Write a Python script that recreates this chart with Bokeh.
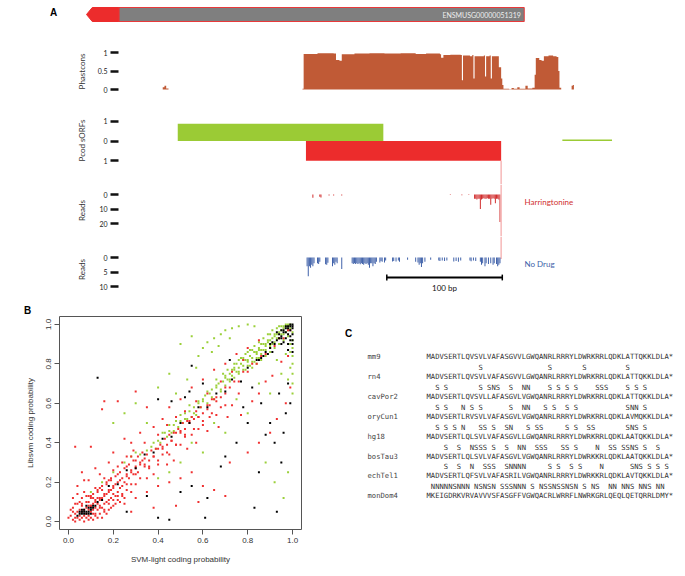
from bokeh.plotting import figure
from bokeh.layouts import column, row
from bokeh.models import Range1d, FixedTicker, Span, NumeralTickFormatter
from bokeh.embed import file_html
from bokeh.resources import INLINE
from bokeh.core.properties import value

# ---------------- data : panel A ----------------
gene_name = "ENSMUSG00000051319"
gene_start, gene_end, gene_head_end = 0, 379, 28

phast_pos = [47, 64, 66, 67.5, 69, 71, 185, 187, 188, 200, 214, 216, 219, 221, 232, 245, 258, 272, 285, 294,
             306, 307, 309, 315, 324, 325, 326, 332, 334, 335, 336, 344, 345, 346, 349, 350, 351, 354, 357,
             359, 360, 361, 366, 368, 370, 373, 375, 380, 382, 386, 388, 389, 392, 394, 396, 400, 404, 407, 408.5,
             409.5, 411, 418, 420, 421, 422]
phast_val = [0, 0, 0.06, 0.1, 0.03, 0, 0, 0.02, 0.96, 0.98, 0.97, 0.8, 0.78, 0.95, 0.97, 0.98, 0.97, 0.98, 0.96, 0.97,
             0.95, 0.86, 0.93, 0.94, 0.93, 0.25, 0.92, 0.9, 0.93, 0.3, 0.9, 0.92, 0.35, 0.9, 0.92, 0.3, 0.9, 0.9, 0.6,
             0.3, 0.12, 0.02, 0.01, 0.04, 0.02, 0.06, 0.02, 0.1, 0.03, 0.05, 0.4, 0.85, 0.8, 0.78, 0.9, 0.92, 0.9, 0.88,
             0.5, 0.05, 0, 0, 0.1, 0.12, 0]

sorf_left = [79, 190, 412]
sorf_right = [257, 359, 455]
sorf_score = [0.87, -1.0, 0.07]
sorf_color = ["#9bcb35", "#ec2c2c", "#9bcb35"]

harr_pos = [196, 202, 203, 210, 214, 221, 315, 325, 331, 336, 337, 338, 339, 340, 341, 342, 343, 344, 345, 346,
            347, 348, 349, 350, 351, 352, 353, 354, 355, 356, 357, 358]
harr_reads = [2.3, 1.5, 2, 0.7, 0.7, 0.7, 0.4, 0.5, 0.4, 3, 3, 3.5, 3, 3, 10, 3.5, 3, 2.5, 3, 3,
              2.5, 3, 3, 7, 3, 2.5, 3, 6, 3, 3, 3.5, 19]

nodrug_pos = [191, 192, 193, 194, 195, 196, 197, 200, 201, 202, 207, 208, 209, 213, 214, 215, 216, 217, 221,
              230, 231, 232, 233, 234, 235, 236, 237, 238, 239, 240, 241, 242, 243, 244, 245, 246, 247, 248, 249,
              250, 251, 254, 255, 256, 258, 259, 265, 266, 268, 270, 271, 278, 285, 287, 288, 289, 290, 291, 293,
              298, 305, 306, 308, 310, 312, 318, 320, 322, 324, 332, 333, 335, 337, 341, 342, 343, 345, 346, 348,
              350, 352, 353, 355, 356, 357, 358]
nodrug_reads = [3, 6.5, 3, 3.5, 2.5, 3, 2, 2, 2.2, 1.5, 2.3, 2.5, 1.8, 3, 2, 2.5, 1.5, 2, 4,
                2, 2.2, 2, 2.2, 2, 2.2, 2, 2.3, 2, 2.2, 2.5, 2, 2.2, 2, 2.5, 3.5, 2, 2, 3, 2,
                2.2, 1.5, 1.7, 1.2, 1.5, 1.7, 1, 1.4, 1.2, 1.4, 1, 1.5, 0.8, 1.5, 1.7, 2.5, 2, 3.3, 2, 1.5,
                0.8, 1, 1.2, 1, 1.2, 1, 1.4, 1.2, 1.5, 1, 1, 1.3, 1, 1.2, 1.5, 2.5, 2, 3, 2, 2.2,
                2, 2.5, 2, 2.2, 3, 2.5, 2]
scale_bar_start, scale_bar_len = 260, 100

# ---------------- data : panel B ----------------
red_pts = [(0.02,0.01),(0.03,0.02),(0.04,0.02),(0.05,0.03),(0.06,0.02),(0.07,0.03),(0.08,0.04),(0.09,0.03),(0.10,0.05),
 (0.11,0.04),(0.03,0.04),(0.04,0.05),(0.05,0.06),(0.06,0.05),(0.07,0.06),(0.08,0.07),(0.09,0.08),(0.10,0.08),(0.11,0.09),
 (0.12,0.10),(0.13,0.09),(0.14,0.11),(0.15,0.12),(0.16,0.13),(0.17,0.14),(0.18,0.15),(0.19,0.16),(0.20,0.17),(0.02,0.05),
 (0.01,0.03),(0.00,0.02),(0.01,0.06),(0.02,0.07),(0.03,0.09),(0.05,0.10),(0.06,0.12),(0.04,0.14),(0.07,0.15),(0.09,0.13),
 (0.10,0.12),(0.12,0.07),(0.13,0.06),(0.14,0.08),(0.15,0.07),(0.16,0.09),(0.17,0.10),(0.18,0.11),(0.19,0.12),(0.21,0.13),
 (0.22,0.15),(0.23,0.17),(0.24,0.18),(0.25,0.20),(0.08,0.02),(0.10,0.02),(0.12,0.03),(0.14,0.04),(0.16,0.05),(0.18,0.06),
 (0.06,0.08),(0.08,0.10),(0.11,0.14),(0.13,0.16),(0.15,0.18),(0.17,0.20),(0.19,0.22),(0.21,0.19),(0.23,0.21),(0.26,0.23),
 (0.27,0.22),(0.28,0.26),(0.29,0.24),(0.30,0.27),(0.31,0.25),(0.32,0.29),(0.02,0.12),(0.04,0.18),(0.07,0.21),(0.05,0.01),
 (0.09,0.06),(0.11,0.06),(0.13,0.12),(0.20,0.14),(0.22,0.11),(0.24,0.14),(0.26,0.16),(0.03,0.00),(0.07,0.00),(0.11,0.01),
 (0.15,0.02),(0.20,0.08),(0.25,0.12),(0.28,0.15),(0.30,0.19),(0.35,0.22),
 (0.33,0.31),(0.34,0.29),(0.35,0.34),(0.36,0.31),(0.37,0.36),(0.38,0.33),(0.39,0.37),(0.40,0.37),(0.41,0.39),(0.42,0.38),
 (0.43,0.42),(0.44,0.39),(0.45,0.44),(0.46,0.41),(0.47,0.45),(0.48,0.45),(0.49,0.47),(0.50,0.46),(0.51,0.50),(0.52,0.47),
 (0.53,0.51),(0.54,0.51),(0.55,0.53),(0.56,0.52),(0.57,0.56),(0.58,0.53),(0.59,0.58),(0.60,0.55),(0.62,0.59),(0.63,0.59),
 (0.64,0.62),(0.65,0.62),(0.66,0.63),(0.68,0.63),(0.70,0.68),(0.72,0.68),(0.74,0.71),(0.76,0.71),(0.78,0.76),(0.80,0.76),
 (0.82,0.80),(0.84,0.80),(0.86,0.84),(0.88,0.85),(0.90,0.88),(0.92,0.89),(0.94,0.93),(0.96,0.93),(0.98,0.97),(0.99,0.97),
 (0.36,0.28),(0.40,0.29),(0.42,0.34),(0.45,0.34),(0.48,0.39),(0.50,0.39),(0.52,0.44),(0.55,0.44),(0.58,0.47),(0.60,0.49),
 (0.63,0.53),(0.66,0.54),(0.70,0.59),(0.73,0.59),(0.76,0.65),(0.38,0.24),(0.44,0.29),(0.47,0.31),(0.53,0.37),(0.57,0.40),
 (0.62,0.46),(0.67,0.48),(0.71,0.53),(0.77,0.54),(0.82,0.61),(0.85,0.65),(0.88,0.71),(0.91,0.74),(0.95,0.81),(0.98,0.84),
 (0.30,0.12),(0.35,0.15),(0.40,0.18),(0.45,0.20),(0.50,0.22),(0.55,0.25),(0.60,0.18),(0.65,0.16),(0.70,0.13),(0.72,0.30),
 (0.80,0.35),(0.85,0.40),(0.90,0.45),(0.93,0.52),(0.97,0.60),(0.99,0.68),(0.58,0.10),(0.48,0.08),(0.38,0.07),(0.28,0.05),
 (0.25,0.09),(0.03,0.38),(0.10,0.38),(0.15,0.57),(0.16,0.61),(0.22,0.61),(0.30,0.66),(0.35,0.58),(0.12,0.27),(0.18,0.30),
 (0.20,0.35),(0.25,0.42),(0.28,0.40),(0.32,0.45),(0.38,0.48),(0.42,0.52),(0.45,0.58),(0.50,0.62),(0.55,0.68),(0.60,0.72),
 (0.65,0.77),(0.70,0.80),(0.75,0.85),(0.80,0.88),(0.85,0.92),(0.06,0.25),(0.09,0.21),(0.14,0.24),(0.22,0.28),(0.26,0.33),
 (0.29,0.36),(0.34,0.40),(0.40,0.44),(0.44,0.49),(0.48,0.53),(0.52,0.56),(0.57,0.61),(0.62,0.65),(0.68,0.71),(0.73,0.76),
 (0.78,0.82),
 (0.09,0.10),(0.10,0.08),(0.11,0.12),(0.12,0.11),(0.13,0.15),(0.14,0.12),(0.15,0.16),(0.16,0.14),(0.17,0.19),(0.18,0.16),
 (0.19,0.21),(0.20,0.18),(0.21,0.23),(0.22,0.20),(0.23,0.25),(0.24,0.22),(0.25,0.27),(0.26,0.24),(0.27,0.29),(0.28,0.25),
 (0.29,0.31),(0.30,0.28),(0.31,0.33),(0.32,0.30),(0.33,0.35),(0.34,0.32),
 (0.12,0.04),(0.14,0.07),(0.16,0.06),(0.18,0.09),(0.20,0.11),(0.22,0.13),(0.24,0.13),(0.26,0.19),(0.28,0.19),(0.30,0.24),
 (0.32,0.22),(0.34,0.28),(0.36,0.27),(0.38,0.33),(0.40,0.31),(0.42,0.37),(0.44,0.35),(0.46,0.41),(0.48,0.39),(0.50,0.45),
 (0.52,0.43),(0.54,0.50),(0.56,0.47),(0.58,0.53),(0.60,0.51),(0.62,0.57),(0.64,0.55),(0.66,0.61),(0.68,0.58),(0.70,0.65),
 (0.04,0.09),(0.06,0.09),(0.08,0.13),(0.10,0.13),(0.12,0.17),(0.14,0.17),(0.16,0.22),(0.18,0.21),(0.20,0.26),(0.22,0.24),
 (0.24,0.30),(0.26,0.28),(0.28,0.33),(0.30,0.31),(0.09,0.01),(0.13,0.02),(0.17,0.04),(0.19,0.07),(0.21,0.09),(0.23,0.10)]
green_pts = [(0.35,0.36),(0.38,0.40),(0.40,0.41),(0.42,0.45),(0.45,0.46),(0.47,0.49),(0.50,0.51),(0.52,0.55),(0.54,0.56),
 (0.56,0.58),(0.58,0.61),(0.60,0.62),(0.61,0.64),(0.63,0.65),(0.64,0.67),(0.66,0.68),(0.67,0.70),(0.69,0.71),(0.70,0.73),
 (0.71,0.72),(0.72,0.75),(0.73,0.74),(0.74,0.77),(0.75,0.76),(0.76,0.78),(0.77,0.80),(0.78,0.79),(0.79,0.82),(0.80,0.81),
 (0.81,0.84),(0.82,0.83),(0.83,0.86),(0.84,0.85),(0.85,0.88),(0.86,0.87),(0.87,0.90),(0.88,0.89),(0.89,0.91),(0.90,0.92),
 (0.91,0.93),(0.92,0.94),(0.93,0.95),(0.94,0.96),(0.95,0.97),(0.96,0.98),(0.97,0.99),(0.98,0.99),(0.99,1.00),(0.70,0.69),
 (0.72,0.71),(0.74,0.73),(0.76,0.75),(0.78,0.77),(0.80,0.79),(0.82,0.81),(0.84,0.83),(0.86,0.85),(0.88,0.87),(0.90,0.89),
 (0.92,0.91),(0.94,0.93),(0.96,0.95),(0.98,0.97),(0.68,0.66),(0.65,0.62),(0.62,0.60),(0.59,0.58),(0.57,0.54),(0.55,0.53),
 (0.53,0.52),(0.51,0.50),(0.49,0.48),(0.46,0.45),(0.44,0.43),(0.41,0.40),(0.39,0.37),(0.37,0.38),(0.75,0.80),(0.77,0.83),
 (0.79,0.85),(0.81,0.87),(0.83,0.89),(0.85,0.91),(0.87,0.93),(0.89,0.95),(0.91,0.97),(0.93,0.98),(0.95,0.99),(0.97,1.00),
 (0.82,0.78),(0.84,0.80),(0.86,0.82),(0.88,0.84),(0.90,0.86),(0.92,0.88),(0.94,0.90),(0.96,0.92),(0.98,0.94),(1.00,0.96),
 (1.00,0.92),(1.00,0.88),(1.00,0.84),(1.00,0.80),(1.00,0.75),(1.00,0.70),(1.00,0.65),(0.99,0.90),(0.99,0.86),(0.99,0.78),
 (0.98,0.72),(0.50,0.90),(0.55,0.94),(0.60,0.88),(0.62,0.91),(0.65,0.93),(0.68,0.95),(0.70,0.97),(0.73,0.98),(0.76,0.99),
 (0.80,1.00),(0.83,0.99),(0.58,0.84),(0.64,0.86),(0.67,0.89),(0.72,0.93),(0.45,0.75),(0.40,0.68),(0.30,0.60),(0.25,0.55),
 (0.20,0.50),(0.35,0.50),(0.48,0.65),(0.53,0.72),(0.57,0.78),(0.55,0.40),(0.65,0.50),(0.75,0.62),(0.85,0.70),(0.95,0.75),
 (0.90,0.65),(0.80,0.55),(0.70,0.45),(0.60,0.35),(0.50,0.30),(0.97,0.85),(0.93,0.82),(0.45,0.25),(0.40,0.22),(0.98,0.25),
 (0.96,0.12),(0.92,0.20),(0.88,0.30),(0.20,0.25),(0.25,0.30),(0.28,0.33),(0.30,0.35),(0.32,0.34),(0.15,0.20),(0.10,0.15),
 (0.60,0.61),(0.62,0.66),(0.64,0.63),(0.66,0.69),(0.68,0.67),(0.70,0.74),(0.72,0.72),(0.74,0.78),(0.76,0.76),(0.78,0.82),
 (0.80,0.82),(0.82,0.87),(0.84,0.86),(0.86,0.90),(0.88,0.90),(0.90,0.95),(0.92,0.95),(0.94,0.99),(0.96,0.99),(0.98,1.00),
 (0.71,0.77),(0.73,0.77),(0.76,0.82),(0.78,0.83),(0.80,0.86),(0.83,0.86),(0.85,0.87),(0.87,0.87),(0.89,0.92),(0.91,0.90),
 (0.93,0.93),(0.95,0.95),(0.97,0.96),(0.99,0.98),(0.50,0.54),(0.52,0.52),(0.54,0.59),(0.56,0.55),(0.58,0.60),(0.43,0.45),
 (0.45,0.49),(0.47,0.46),(0.48,0.51),(0.66,0.72),(0.69,0.75),(0.74,0.80),(0.79,0.77),(0.81,0.79),(0.83,0.81),(0.85,0.83)]
black_pts = [(0.93,0.92),(0.94,0.95),(0.95,0.94),(0.96,0.97),(0.97,0.96),(0.98,0.98),(0.99,0.99),(1.00,1.00),(0.99,0.97),
 (0.98,0.95),(0.97,0.93),(0.96,0.91),(0.95,0.90),(1.00,0.98),(1.00,0.95),(0.99,0.94),(0.97,0.99),(0.95,0.97),(0.92,0.90),
 (0.90,0.88),(0.91,0.86),(0.89,0.85),(0.88,0.86),(0.87,0.84),(0.86,0.83),(0.85,0.82),(0.84,0.82),(1.00,0.92),(1.00,0.90),
 (1.00,0.86),(0.99,0.92),(0.98,0.90),(0.98,0.87),(0.80,0.78),(0.77,0.71),(0.73,0.72),(0.70,0.66),(0.66,0.65),(0.62,0.58),
 (0.58,0.58),(0.54,0.50),(0.50,0.50),(0.46,0.43),(0.42,0.42),(0.38,0.35),(0.34,0.34),(0.30,0.27),(0.26,0.26),(0.22,0.19),
 (0.18,0.18),(0.06,0.04),(0.07,0.04),(0.08,0.05),(0.09,0.05),(0.10,0.06),(0.05,0.04),(0.06,0.05),(0.08,0.04),(0.09,0.07),
 (0.11,0.07),(0.12,0.08),(0.07,0.05),(0.10,0.04),(0.13,0.10),(0.15,0.11),(0.13,0.73),(0.55,0.79),(0.40,0.62),(0.46,0.61),
 (0.52,0.63),(0.54,0.66),(0.60,0.70),(0.72,0.82),(0.78,0.58),(0.86,0.60),(0.90,0.50),(0.97,0.55),(0.95,0.30),(0.93,0.05),
 (0.83,0.07),(0.75,0.40),(0.70,0.33),(0.61,0.02),(0.45,0.01),(0.40,0.02),(0.88,0.44),(0.92,0.40),(0.96,0.45),(0.99,0.60),
 (0.98,0.70),(0.94,0.65),(0.82,0.68),(0.80,0.50),(0.68,0.28),(0.62,0.12),(0.50,0.15),(0.35,0.13),(0.26,0.05),(0.55,0.18),
 (0.85,0.25),(0.97,0.98),(0.98,0.99),(0.99,1.00),(1.00,0.99),(0.96,0.96),(0.94,0.93),(0.93,0.96),(0.91,0.91),(0.90,0.90),
 (0.95,0.93),(0.04,0.03),(0.05,0.05),(0.07,0.06),(0.08,0.08),(0.09,0.04),(0.11,0.08),(0.06,0.06),(0.10,0.07)]
b_ticks = [0.0, 0.2, 0.4, 0.6, 0.8, 1.0]

# ---------------- data : panel C ----------------
species = ["mm9", "rn4", "cavPor2", "oryCun1", "hg18", "bosTau3", "echTel1", "monDom4"]
sequences = [
    "MADVSERTLQVSVLVAFASGVVLGWQANRLRRRYLDWRKRRLQDKLATTQKKLDLA*",
    "MADVSERTLQVSVLVAFASGVVLGWQANRLRRRYLDWRKRRLQDKLATTQKKLDLA*",
    "MADVSERTLQVSVLLAFASGVLVGWQANRLRRRYLDWRKRRLQDKLATTQKKLDLA*",
    "MADVSERTLRVSVLVAFASGVLVGWQANRLRRRYLDWRKRRLQDKLAVMQKKLDLA*",
    "MADVSERTLQLSVLVAFASGVLLGWQANRLRRRYLDWRKRRLQDKLAATQKKLDLA*",
    "MADVSERTLQLSVLVAFASGVLVGWQANRLRRRYLDWRKKRLQDKLAATQKKLDLA*",
    "MADVSERTLQFSVLVAFASRILVGWQANRLRRRYLDWRKKRLQDKLAVTQKKLDLA*",
    "MKEIGDRKVRVAVVVSFASGFFVGWQACRLWRRFLNWRKGRLQEQLQETQRRLDMY*",
]
subst_rows = [
    {12: "S", 28: "S", 36: "S", 46: "S"},
    {2: "S", 4: "S", 12: "S", 14: "S", 15: "N", 16: "S", 19: "S", 22: "N", 23: "N", 28: "S", 30: "S", 32: "S",
     34: "S", 39: "S", 40: "S", 41: "S", 46: "S", 48: "S", 50: "S"},
    {2: "S", 4: "S", 8: "N", 10: "S", 12: "S", 19: "S", 22: "N", 23: "N", 27: "S", 29: "S", 32: "S", 34: "S",
     46: "S", 47: "N", 48: "N", 50: "S"},
    {2: "S", 4: "S", 6: "S", 8: "N", 12: "S", 13: "S", 15: "S", 18: "S", 19: "N", 23: "S", 25: "S", 26: "S",
     32: "S", 34: "S", 37: "S", 38: "S", 46: "S", 47: "N", 48: "S", 50: "S"},
    {4: "S", 7: "S", 10: "N", 11: "S", 12: "S", 13: "S", 15: "S", 18: "S", 21: "N", 22: "N", 25: "S", 26: "S",
     27: "S", 31: "S", 32: "S", 34: "S", 39: "N", 42: "S", 43: "S", 45: "S", 46: "S", 47: "N", 48: "S", 50: "S", 53: "S"},
    {4: "S", 7: "S", 10: "N", 13: "S", 14: "S", 15: "S", 18: "S", 19: "N", 20: "N", 21: "N", 22: "N", 28: "S",
     30: "S", 33: "S", 35: "S", 40: "N", 47: "S", 48: "N", 49: "S", 51: "S", 53: "S", 55: "S"},
    {1: "N", 2: "N", 3: "N", 4: "N", 5: "N", 6: "S", 7: "N", 8: "N", 9: "N", 11: "N", 12: "S", 13: "N", 14: "S",
     15: "N", 17: "S", 18: "S", 19: "S", 20: "N", 21: "N", 22: "N", 24: "S", 26: "N", 27: "S", 28: "S", 29: "N",
     30: "S", 31: "S", 32: "N", 33: "S", 34: "N", 36: "S", 38: "N", 39: "S", 42: "N", 43: "N", 45: "N", 46: "N",
     47: "S", 49: "N", 50: "N", 51: "S", 53: "N", 54: "N"},
]

# ---------------- layout helpers (page pixels, page origin at top-left) ----------------
PX_PER_BP = 1.155
GENE_PAGE_X = 86
A_RIGHT = 648
SANS = "Lato"
MONO = "DejaVu Sans Mono"
TRACK_LEFT = 118


def bp_at(page_x):
    return (page_x - GENE_PAGE_X) / PX_PER_BP


def yr(top, bottom, p0, v0, k):
    """y range for a frame spanning page rows top..bottom where value v0 sits at page row p0,
    k pixels per unit (negative k = values grow downwards)."""
    return Range1d(start=v0 + (p0 - bottom) / k, end=v0 + (p0 - top) / k)


def yv(page_y, p0, v0, k):
    return v0 + (p0 - page_y) / k


def plain_fig(width, height, x_range, y_range):
    p = figure(width=width, height=height, x_range=x_range, y_range=y_range,
               output_backend="svg", toolbar_location=None,
               min_border_left=0, min_border_right=0, min_border_top=0, min_border_bottom=0,
               x_axis_location=None, y_axis_location=None)
    p.outline_line_color = None
    p.grid.visible = False
    p.frame_align = False
    return p


def track_fig(top, bottom, y_range, ticks, label, standoff, overrides=None):
    p = figure(width=A_RIGHT, height=bottom - top,
               x_range=Range1d(bp_at(TRACK_LEFT), bp_at(A_RIGHT)), y_range=y_range,
               output_backend="svg", toolbar_location=None,
               min_border_left=TRACK_LEFT, min_border_right=0, min_border_top=0, min_border_bottom=0,
               x_axis_location=None, y_axis_location="left")
    p.outline_line_color = None
    p.grid.visible = False
    ax = p.yaxis[0]
    ax.ticker = FixedTicker(ticks=ticks)
    if overrides:
        ax.major_label_overrides = overrides
    ax.axis_line_color = None
    ax.major_tick_out = 8
    ax.major_tick_in = 0
    ax.major_tick_line_width = 2.5
    ax.major_tick_line_color = "#111111"
    ax.minor_tick_line_color = None
    ax.major_label_standoff = 3
    ax.major_label_text_font = SANS
    ax.major_label_text_font_size = "7px"
    ax.major_label_text_color = "#222222"
    ax.axis_label = label
    ax.axis_label_text_font = SANS
    ax.axis_label_text_font_size = "8px"
    ax.axis_label_text_font_style = "normal"
    ax.axis_label_text_color = "#333333"
    ax.axis_label_standoff = standoff
    return p

# ---- gene track (page rows 0..46, bar 7..21) ----
gene = plain_fig(A_RIGHT, 46, Range1d(bp_at(0), bp_at(A_RIGHT)), yr(0, 46, 21, 0, 14))
gene.quad(left=[gene_head_end], right=[gene_end], bottom=[0], top=[1],
          fill_color="#7f7f7f", line_color="#e8393a", line_width=1)
gene.patch(x=[gene_start, gene_start + 5, gene_head_end, gene_head_end, gene_start + 5],
           y=[0.5, 1, 1, 0, 0], fill_color="#ec2c2c", line_color="#ec2c2c", line_width=1)
gene.text(x=[gene_end - 3], y=[0.5], text=[gene_name], text_font=value(SANS), text_font_size="7px",
          text_color="#eeeeee", text_align="right", text_baseline="middle")
gene.text(x=[bp_at(53)], y=[yv(12, 21, 0, 14)], text=["A"], text_font=value("Liberation Sans"),
          text_font_size="10px", text_font_style="bold", text_color="#000000",
          text_align="center", text_baseline="middle")

# ---- phastcons (frame 46..96; 1 at 52, 0 at 89) ----
phast = track_fig(46, 96, yr(46, 96, 89, 0, 37), [0, 0.5, 1], "Phastcons", 8)
phast.varea_step(x=phast_pos, y1=[0] * len(phast_pos), y2=phast_val, step_mode="after", fill_color="#c05a36")

# ---- sORFs (frame 96..184; 0 at 140.5) ----
sorf_yr = yr(96, 184, 140.5, 0, 19.75)
sorf = track_fig(96, 184, sorf_yr, [-1, 0, 1], "Pcod sORFs", 13, overrides={-1: "1"})
sorf.quad(left=sorf_left, right=sorf_right, bottom=[0] * 3, top=sorf_score, fill_color=sorf_color,
          line_color=None)
sorf.segment(x0=[sorf_right[1]], x1=[sorf_right[1]], y0=[-1], y1=[sorf_yr.start],
             line_color="#f6b8b8", line_width=1.5)

# ---- Harringtonine reads (frame 184..236; 0 at 194) ----
harr = track_fig(184, 236, yr(184, 236, 194, 0, -1.45), [0, 10, 20], "Reads", 9)
harr.add_layout(Span(location=sorf_right[1], dimension="height", line_color="#f6b8b8", line_width=1.5))
harr.vbar(x=harr_pos, width=0.85, bottom=0, top=harr_reads, fill_color="#d02a2a", line_color=None)
harr.text(x=[bp_at(524)], y=[yv(201, 194, 0, -1.45)], text=["Harringtonine"], text_font=value(SANS),
          text_font_size="8px", text_color="#d03030", text_baseline="middle")

# ---- No drug reads (frame 236..302; 0 at 257) ----
nod_yr = yr(236, 302, 257, 0, -2.9)
nod = track_fig(236, 302, nod_yr, [0, 5, 10], "Reads", 9)
nod.segment(x0=[sorf_right[1]], x1=[sorf_right[1]], y0=[nod_yr.end], y1=[0.5],
            line_color="#f6b8b8", line_width=1.5)
nod.vbar(x=nodrug_pos, width=0.85, bottom=0, top=nodrug_reads, fill_color="#3d5fa8", line_color=None)
nod.text(x=[bp_at(524)], y=[yv(263, 257, 0, -2.9)], text=["No Drug"], text_font=value(SANS),
         text_font_size="8px", text_color="#3d5fa8", text_baseline="middle")
sb_y = yv(277, 257, 0, -2.9)
sb_end = scale_bar_start + scale_bar_len
nod.segment(x0=[scale_bar_start], x1=[sb_end], y0=[sb_y], y1=[sb_y], line_color="#000000", line_width=2)
nod.segment(x0=[scale_bar_start, sb_end], x1=[scale_bar_start, sb_end], y0=[sb_y - 1.0, sb_y - 1.0],
            y1=[sb_y + 1.0, sb_y + 1.0], line_color="#000000", line_width=1.5)
nod.text(x=[(scale_bar_start + sb_end) / 2], y=[yv(287, 257, 0, -2.9)], text=["%d bp" % scale_bar_len],
         text_font=value(SANS), text_font_size="8px", text_color="#111111",
         text_align="center", text_baseline="middle")

# ---- panel B label strip (page rows 302..316) ----
labB = plain_fig(330, 14, Range1d(0, 330), Range1d(14, 0))
labB.text(x=[27], y=[7.5], text=["B"], text_font=value("Liberation Sans"), text_font_size="10px",
          text_font_style="bold", text_align="center", text_baseline="middle")

# ---- panel B (page rows 316..574, frame 316..529, cols 59..301) ----
figB = figure(width=330, height=258, x_range=Range1d(-0.04, 1.04), y_range=Range1d(-0.04, 1.04),
              output_backend="svg", toolbar_location=None,
              min_border_left=59, min_border_right=29, min_border_top=0, min_border_bottom=45)
figB.frame_align = False
figB.grid.visible = False
figB.outline_line_color = "#555555"
figB.outline_line_width = 1
for ax in (figB.xaxis[0], figB.yaxis[0]):
    ax.ticker = FixedTicker(ticks=b_ticks)
    ax.formatter = NumeralTickFormatter(format="0.0")
    ax.bounds = (0, 1)
    ax.axis_line_color = "#555555"
    ax.major_tick_out = 5
    ax.major_tick_in = 0
    ax.major_tick_line_color = "#555555"
    ax.minor_tick_line_color = None
    ax.major_label_text_font = "Liberation Sans"
    ax.major_label_text_font_size = "8px"
    ax.major_label_text_color = "#333333"
    ax.major_label_standoff = 3
    ax.axis_label_text_font = "Liberation Sans"
    ax.axis_label_text_font_size = "8px"
    ax.axis_label_text_font_style = "normal"
    ax.axis_label_text_color = "#333333"
    ax.axis_label_standoff = 9
figB.xaxis[0].axis_label = "SVM-light coding probability"
figB.yaxis[0].axis_label = "Libsvm coding probability"
figB.yaxis[0].major_label_orientation = "vertical"
for pts, col in ((green_pts, "#9bd03a"), (red_pts, "#f03030"), (black_pts, "#000000")):
    figB.scatter(x=[p[0] for p in pts], y=[p[1] for p in pts], marker="square", size=2.0,
                 fill_color=col, line_color=None)

# ---- panel C (page cols 330..685, rows 304..574) ----
CH = 4.333   # px per character column
ROW = 19.9   # px per species row
figC = plain_fig(355, 270, Range1d((330 - 426) / CH, (685 - 426) / CH), yr(304, 574, 358, 0, -ROW))
NB = "\u00a0"
n_rows = list(range(len(species)))
figC.text(x=[(367 - 426) / CH] * len(species), y=n_rows, text=species, text_font=value(MONO),
          text_font_size="7.2px", text_color="#444444", text_baseline="middle")
figC.text(x=[0] * len(sequences), y=n_rows, text=sequences, text_font=value(MONO),
          text_font_size="7.2px", text_color="#333333", text_baseline="middle")
subst_text = ["".join(d.get(i, NB) for i in range(len(sequences[0]))) for d in subst_rows]
figC.text(x=[0] * len(subst_text), y=[r + 0.55 for r in range(len(subst_text))], text=subst_text,
          text_font=value(MONO), text_font_size="7.2px", text_color="#333333", text_baseline="middle")
figC.text(x=[(348 - 426) / CH], y=[yv(335, 358, 0, -ROW)], text=["C"], text_font=value("Liberation Sans"),
          text_font_size="10px", text_font_style="bold", text_align="center", text_baseline="middle")

layout = column(gene, phast, sorf, harr, nod, row(column(labB, figB, spacing=0), figC, spacing=0), spacing=0)
open("out.html", "w").write(file_html(layout, INLINE))
